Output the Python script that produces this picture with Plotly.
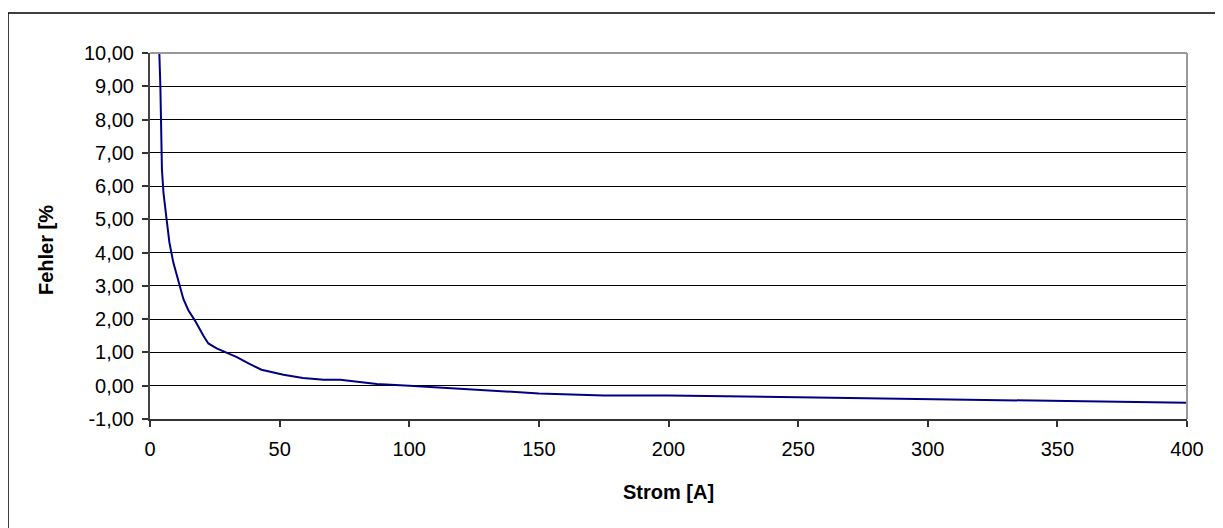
import plotly.graph_objects as go

strom = [3.6, 4.0, 4.6, 5.2, 6.4, 7.5, 9.0, 11.0, 12.9, 14.8, 17.4, 20.6, 22.5, 25.7, 30.0, 33.5, 38.0, 43.0,
         51.5, 59.0, 67.0, 73.4, 80.0, 87.5, 100.0, 150.0, 175.0, 200.0, 250.0, 300.0, 350.0, 400.0]
fehler = [10.0, 9.0, 6.5, 5.8, 5.0, 4.3, 3.7, 3.1, 2.6, 2.27, 1.95, 1.5, 1.27, 1.12, 0.98, 0.86, 0.67, 0.48,
          0.33, 0.23, 0.18, 0.18, 0.12, 0.05, 0.0, -0.23, -0.29, -0.29, -0.35, -0.41, -0.46, -0.51]

x_ticks = [0, 50, 100, 150, 200, 250, 300, 350, 400]
y_ticks = [-1, 0, 1, 2, 3, 4, 5, 6, 7, 8, 9, 10]
y_ticktext = [f"{v:.2f}".replace(".", ",") for v in y_ticks]

FONT = "Liberation Sans, Arial, sans-serif"
OFF = 8  # page body margin
W, H = 1223 - OFF, 528 - OFF
# plot area in window pixels
PL, PR, PT, PB = 150, 1187, 53, 419
L, T = PL - OFF, PT - OFF
R, B = W - (PR - OFF), H - (PB - OFF)
pw, ph = PR - PL, PB - PT

def px(x):
    return (x - PL) / pw

def py(y):
    return (PB - y) / ph

fig = go.Figure()
fig.add_trace(go.Scatter(x=strom, y=fehler, mode="lines",
                         line=dict(color="#000080", width=2), showlegend=False,
                         hoverinfo="x+y"))

fig.update_layout(
    width=W, height=H,
    margin=dict(l=L, r=R, t=T, b=B, pad=0),
    paper_bgcolor="white", plot_bgcolor="white",
    font=dict(family=FONT, size=20, color="black"),
    xaxis=dict(range=[0, 400], tickvals=x_ticks, ticks="outside", ticklen=6,
               tickcolor="#333333", tickwidth=1.5, showgrid=False, zeroline=False,
               showline=True, linecolor="#333333", linewidth=2,
               ticklabelstandoff=5, tickfont=dict(size=20)),
    yaxis=dict(range=[-1, 10], tickvals=y_ticks, ticktext=y_ticktext, ticks="outside", ticklen=6,
               tickcolor="#333333", tickwidth=1.5, showgrid=True, gridcolor="black", gridwidth=1,
               zeroline=False, showline=True, linecolor="#444444", linewidth=2,
               ticklabelstandoff=4, tickfont=dict(size=20)),
    shapes=[
        dict(type="line", xref="paper", yref="paper", x0=0, x1=1, y0=1, y1=1,
             line=dict(color="#999999", width=2)),
        dict(type="line", xref="paper", yref="paper", x0=1, x1=1, y0=0, y1=1,
             line=dict(color="#999999", width=2)),
        dict(type="rect", xref="paper", yref="paper", x0=px(8), x1=px(1222), y0=py(530), y1=py(13),
             line=dict(color="black", width=1.5), layer="below"),
    ],
    annotations=[
        dict(text="<b>Strom [A]</b>", xref="paper", yref="paper", x=0.5, y=py(492),
             showarrow=False, xanchor="center", yanchor="middle", font=dict(size=20)),
        dict(text="<b>Fehler [%</b>", xref="paper", yref="paper", x=px(46), y=py(250),
             showarrow=False, xanchor="center", yanchor="middle", textangle=-90,
             font=dict(size=20)),
    ],
)

fig.write_html("out.html")
